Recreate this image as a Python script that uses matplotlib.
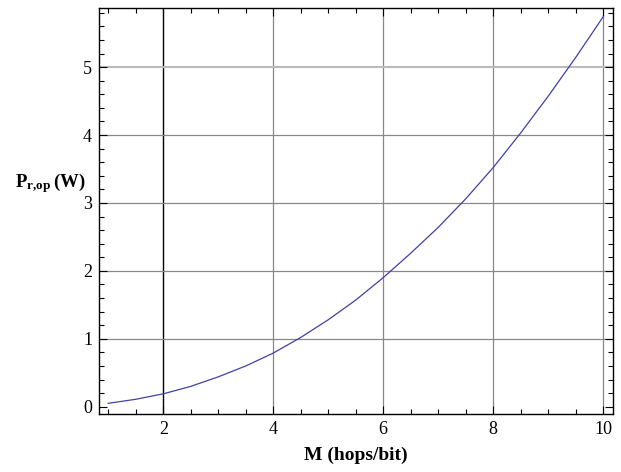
import matplotlib.pyplot as plt
import numpy as np
from matplotlib.ticker import MultipleLocator

plt.rcParams['font.family'] = ['Liberation Serif', 'DejaVu Serif']
plt.rcParams['mathtext.fontset'] = 'custom'
plt.rcParams['mathtext.rm'] = 'Liberation Serif'
plt.rcParams['mathtext.bf'] = 'Liberation Serif:bold'

# hop count M and optimal relay power (W)
m_hops = [1, 1.5, 2, 2.5, 3, 3.5, 4, 4.5, 5, 5.5, 6, 6.5, 7, 7.5, 8, 8.5, 9, 9.5, 10]
p_rop = [0.05, 0.11, 0.19, 0.30, 0.44, 0.60, 0.79, 1.02, 1.28, 1.57, 1.90, 2.26,
         2.64, 3.06, 3.52, 4.03, 4.57, 5.14, 5.74]

x_ticks = [2, 4, 6, 8, 10]
y_ticks = [0, 1, 2, 3, 4, 5]

fig = plt.figure(figsize=(6.21, 4.72), dpi=100)
ax = fig.add_axes([0.1594, 0.1229, 0.8277, 0.8601])

# grid lines
for x in x_ticks:
    if x == 2:
        ax.axvline(x, color='black', lw=1.0, zorder=1)
    else:
        ax.axvline(x, color='#888888', lw=0.9, zorder=1)
for y in y_ticks[1:]:
    if y == 5:
        ax.axhline(y, color='#bbbbbb', lw=1.5, zorder=1)
    else:
        ax.axhline(y, color='#888888', lw=0.9, zorder=1)

ax.plot(m_hops, p_rop, color='#4040a8', lw=0.9, zorder=3)

ax.set_xlim(0.83, 10.18)
ax.set_ylim(-0.107, 5.87)

ax.set_xticks(x_ticks)
ax.set_yticks(y_ticks)
ax.xaxis.set_minor_locator(MultipleLocator(0.5))
ax.yaxis.set_minor_locator(MultipleLocator(0.2))
ax.tick_params(which='both', direction='in', top=True, right=True, width=0.8,
               labelsize=13)
ax.tick_params(which='major', length=6, pad=5)
ax.tick_params(which='minor', length=3.5)
for s in ax.spines.values():
    s.set_linewidth(1.0)

ax.set_xlabel('M (hops/bit)', fontsize=14, fontweight='bold', labelpad=6)
fig.text(0.024, 0.612, r'$\mathbf{P_{r{,}op}}\,$' + '(W)', fontsize=13.5,
         fontweight='bold', va='center', ha='left')

fig.savefig('out.png', dpi=100)
